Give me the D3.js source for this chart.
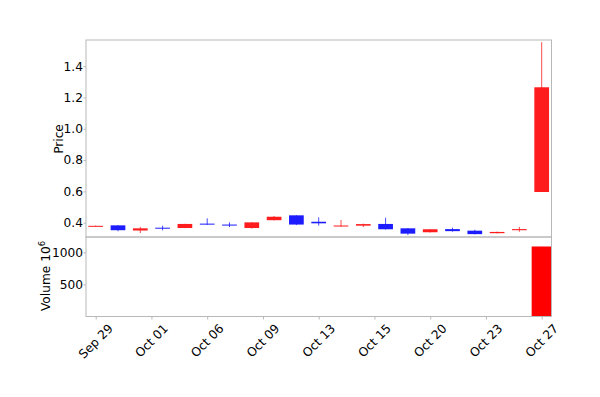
<!DOCTYPE html>
<html>
<head>
<meta charset="utf-8">
<script src="https://cdn.jsdelivr.net/npm/d3@7"></script>
<style>
  body { margin: 0; background: #fff; }
  svg text { font-family: "DejaVu Sans", sans-serif; fill: #000; }
</style>
</head>
<body>
<svg id="chart"></svg>
<script>
// trading days, Sep 29 - Oct 27
const dates = ['Sep 29','Sep 30','Oct 01','Oct 02','Oct 05','Oct 06','Oct 07','Oct 08','Oct 09','Oct 12',
               'Oct 13','Oct 14','Oct 15','Oct 16','Oct 19','Oct 20','Oct 21','Oct 22','Oct 23','Oct 26','Oct 27'];
const opens  = [0.378,0.383,0.350,0.368,0.366,0.394,0.388,0.366,0.416,0.447,0.406,0.380,0.381,0.392,0.364,0.339,0.359,0.349,0.333,0.352,0.596];
const highs  = [0.382,0.385,0.373,0.381,0.393,0.428,0.402,0.403,0.443,0.448,0.434,0.417,0.394,0.432,0.366,0.360,0.368,0.355,0.343,0.373,1.553];
const lows   = [0.376,0.345,0.334,0.351,0.365,0.385,0.372,0.362,0.414,0.385,0.381,0.374,0.372,0.356,0.321,0.337,0.343,0.325,0.331,0.342,0.596];
const closes = [0.380,0.352,0.364,0.364,0.392,0.390,0.384,0.402,0.438,0.388,0.396,0.382,0.391,0.358,0.330,0.358,0.346,0.327,0.341,0.359,1.265];
const volumes = [3, 5, 4, 2, 3, 2, 2, 4, 6, 7, 3, 2, 2, 4, 5, 3, 2, 4, 2, 3, 1092]; // x 10^6

const xTickPos = [0, 2.5, 5, 7.5, 10, 12.5, 15, 17.5, 20];
const xTickLabels = ['Sep 29','Oct 01','Oct 06','Oct 09','Oct 13','Oct 15','Oct 20','Oct 23','Oct 27'];
const priceTicks = [0.4, 0.6, 0.8, 1.0, 1.2, 1.4];
const volumeTicks = [500, 1000];

const W = 600, H = 397;
const left = 86, right = 551.5;
const priceTop = 40, priceBottom = 237;
const volTop = 237, volBottom = 316.5;
const upColor = '#ff1c1c', downColor = '#1c1cff', volColor = '#ff0000';
const frameColor = '#b8b8b8';
const fontSize = 12.2;

const svg = d3.select('#chart').attr('width', W).attr('height', H);

const x = d3.scaleLinear().domain([-0.435, 20.44]).range([left, right]);
const step = x(1) - x(0);
const yPrice = d3.scaleLinear().domain([0.3086, 1.567]).range([priceBottom, priceTop]);
const yVol = d3.scaleLinear().domain([0, 1240]).range([volBottom, volTop]);

const data = dates.map((d, i) => ({
    i: i, date: d, open: opens[i], high: highs[i], low: lows[i], close: closes[i], volume: volumes[i]
}));

svg.append('clipPath').attr('id', 'clipP')
    .append('rect').attr('x', left).attr('y', priceTop).attr('width', right - left).attr('height', priceBottom - priceTop);
svg.append('clipPath').attr('id', 'clipV')
    .append('rect').attr('x', left).attr('y', volTop).attr('width', right - left).attr('height', volBottom - volTop);

// candles
const candles = svg.append('g').attr('clip-path', 'url(#clipP)');
candles.selectAll('line.wick')
    .data(data)
    .enter()
    .append('line')
        .attr('class', 'wick')
        .attr('x1', d => x(d.i)).attr('x2', d => x(d.i))
        .attr('y1', d => yPrice(d.high)).attr('y2', d => yPrice(d.low))
        .attr('stroke', d => d.close >= d.open ? upColor : downColor)
        .attr('stroke-width', 0.8);

const bodyW = step * 0.66;
candles.selectAll('rect.body')
    .data(data)
    .enter()
    .append('rect')
        .attr('class', 'body')
        .attr('x', d => x(d.i) - bodyW / 2)
        .attr('width', bodyW)
        .attr('y', d => yPrice(Math.max(d.open, d.close)))
        .attr('height', d => Math.max(1, yPrice(Math.min(d.open, d.close)) - yPrice(Math.max(d.open, d.close))))
        .attr('fill', d => d.close >= d.open ? upColor : downColor);

// volume
const volW = step * 0.9;
svg.append('g').attr('clip-path', 'url(#clipV)')
    .selectAll('rect')
    .data(data)
    .enter()
    .append('rect')
        .attr('x', d => x(d.i) - volW / 2)
        .attr('width', volW)
        .attr('y', d => yVol(d.volume))
        .attr('height', d => volBottom - yVol(d.volume))
        .attr('fill', d => d.close >= d.open ? volColor : downColor);

// axes
const priceAxis = d3.axisLeft(yPrice).tickValues(priceTicks).tickFormat(d3.format('.1f')).tickSize(2.5).tickPadding(0.5);
const volAxis = d3.axisLeft(yVol).tickValues(volumeTicks).tickFormat(d3.format('d')).tickSize(2.5).tickPadding(0.5);
const xAxis = d3.axisBottom(x).tickValues(xTickPos).tickFormat((d, i) => xTickLabels[i]).tickSize(3).tickPadding(4);

function styleAxis(g) {
    g.select('.domain').remove();
    g.selectAll('.tick line').attr('stroke', frameColor);
    g.selectAll('.tick text').style('font-size', fontSize + 'px').attr('fill', '#000');
}

svg.append('g').attr('transform', `translate(${left},0)`).call(priceAxis).call(styleAxis);
svg.append('g').attr('transform', `translate(${left},0)`).call(volAxis).call(styleAxis);

// rotated date labels: bounding box centred under the tick
const xg = svg.append('g').attr('transform', `translate(0,${volBottom})`).call(xAxis).call(styleAxis);
xg.selectAll('.tick text')
    .attr('text-anchor', 'middle')
    .attr('dy', '0.35em')
    .attr('y', 0)
    .attr('transform', function() {
        const w = this.getComputedTextLength();
        const box = (w + fontSize) / Math.SQRT2;
        return `translate(-0.5,${5.5 + box / 2}) rotate(-45)`;
    });

// frames
[[priceTop, priceBottom], [volTop, volBottom]].forEach(([t, b]) => {
    svg.append('rect')
        .attr('x', left).attr('y', t)
        .attr('width', right - left).attr('height', b - t)
        .attr('fill', 'none').attr('stroke', frameColor).attr('stroke-width', 1);
});

// axis labels
svg.append('text')
    .attr('transform', `translate(63,139) rotate(-90)`)
    .attr('text-anchor', 'middle')
    .style('font-size', fontSize + 'px')
    .text('Price');

const vl = svg.append('text')
    .attr('transform', `translate(50,276) rotate(-90)`)
    .attr('text-anchor', 'middle')
    .style('font-size', fontSize + 'px');
vl.append('tspan').text('Volume  10');
vl.append('tspan').attr('dy', -5).style('font-size', '8.5px').text('6');
</script>
</body>
</html>
